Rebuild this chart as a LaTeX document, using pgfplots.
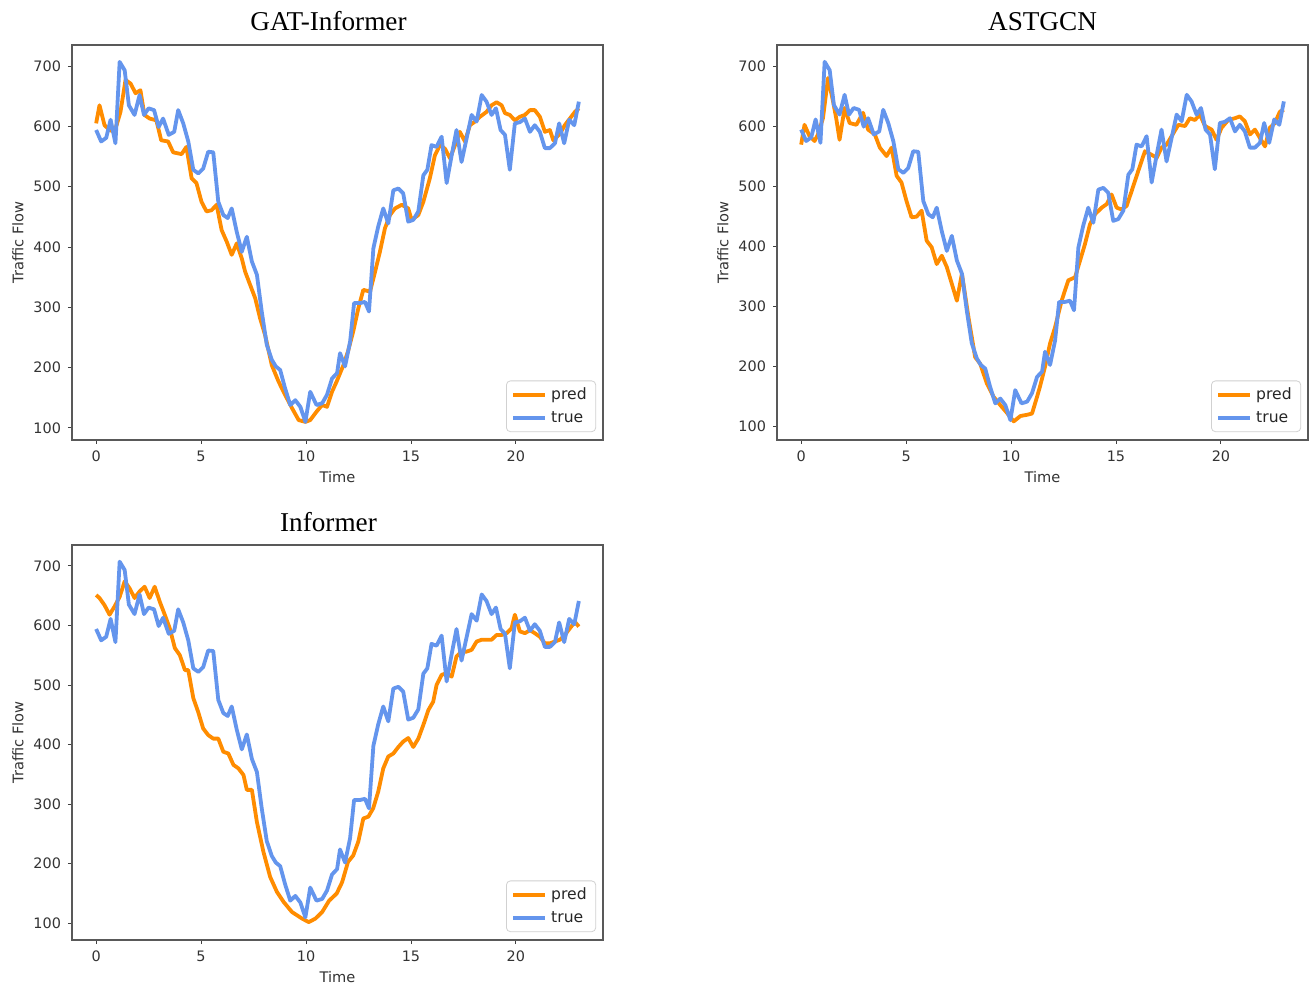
\documentclass[border=0pt]{standalone}
\usepackage{fontspec}
\setmainfont{DejaVu Sans}
\newfontfamily\titlefont{Liberation Serif}
\usepackage{pgfplots}
\pgfplotsset{compat=1.18}
\usepackage{pgfplotstable}
\definecolor{predc}{HTML}{FF8C00}
\definecolor{truec}{HTML}{6495ED}

\pgfplotstableread{
x y
0 594
0.24 575
0.48 581
0.69 611
0.92 572
1.12 707
1.36 693
1.56 635
1.83 619
2.07 652
2.28 619
2.5 630
2.76 627
2.98 599
3.19 613
3.46 586
3.72 591
3.91 627
4.15 605
4.39 575
4.63 528
4.87 522
5.1 530
5.34 558
5.58 557
5.82 475
6.06 453
6.27 448
6.46 464
6.7 425
6.94 392
7.18 417
7.42 376
7.66 354
7.89 293
8.13 238
8.37 213
8.56 202
8.77 196
9.0 166
9.25 138
9.49 146
9.73 135
9.97 110
10.2 160
10.5 138
10.77 141
11.0 155
11.24 182
11.48 191
11.62 224
11.86 202
12.1 243
12.29 307
12.57 307
12.81 309
13.0 293
13.21 398
13.44 434
13.68 464
13.92 439
14.16 494
14.4 497
14.63 489
14.87 442
15.11 445
15.35 459
15.59 519
15.78 528
15.98 569
16.22 566
16.46 583
16.7 506
16.94 552
17.17 594
17.41 541
17.65 580
17.89 619
18.13 608
18.37 652
18.6 641
18.84 619
19.05 630
19.27 594
19.48 586
19.71 528
19.95 605
20.19 607
20.43 613
20.67 591
20.9 602
21.14 591
21.38 564
21.62 564
21.86 572
22.06 605
22.3 572
22.54 611
22.78 602
23.0 641
}\truedata

\pgfplotstableread{
x y
0 605
0.16 635
0.4 602
0.64 594
0.88 591
1.16 624
1.4 677
1.64 671
1.88 655
2.11 660
2.3 619
2.55 613
2.87 610
3.1 577
3.43 575
3.67 557
4.07 554
4.3 566
4.55 514
4.78 506
5.02 475
5.26 459
5.5 461
5.74 470
5.98 428
6.22 409
6.46 387
6.7 406
6.94 381
7.1 359
7.34 337
7.58 315
7.81 282
8.05 254
8.37 204
8.69 177
9.0 155
9.33 133
9.65 113
9.97 110
10.2 113
10.5 127
10.77 138
11.0 135
11.24 160
11.46 177
11.78 204
12.0 227
12.25 260
12.49 298
12.73 329
13.05 326
13.29 359
13.52 392
13.76 431
14.0 453
14.24 464
14.56 470
14.87 464
15.03 445
15.35 453
15.59 475
15.9 514
16.14 552
16.38 569
16.62 563
16.86 547
17.1 569
17.33 591
17.57 575
17.81 602
18.05 608
18.29 616
18.6 624
18.84 635
19.08 640
19.32 635
19.48 622
19.71 619
19.95 610
20.19 616
20.43 619
20.67 627
20.9 627
21.14 616
21.38 591
21.62 594
21.78 577
22.1 588
22.33 602
22.57 613
22.81 624
23.0 630
}\gatpred

\pgfplotstableread{
x y
0 569
0.16 602
0.4 583
0.64 575
0.8 586
1.04 613
1.28 680
1.52 641
1.67 613
1.83 577
2.07 630
2.31 605
2.63 602
2.95 622
3.19 594
3.51 586
3.75 564
4.07 550
4.31 564
4.55 517
4.78 506
5.02 475
5.26 448
5.5 449
5.74 459
5.98 409
6.22 398
6.46 370
6.7 384
6.94 365
7.18 337
7.42 309
7.66 354
7.97 282
8.29 215
8.53 204
8.85 171
9.17 149
9.49 135
9.81 122
10.13 108
10.45 117
10.77 119
11.0 121
11.24 149
11.38 166
11.62 199
11.86 238
12.1 265
12.41 309
12.73 343
13.05 348
13.29 376
13.52 403
13.76 436
14.0 453
14.32 464
14.56 470
14.79 486
15.03 464
15.27 461
15.51 467
15.75 492
16.06 525
16.38 558
16.7 552
16.94 547
17.17 564
17.41 569
17.65 583
17.97 602
18.29 600
18.52 613
18.76 610
19.0 619
19.24 600
19.56 594
19.79 577
20.03 597
20.35 610
20.67 613
20.9 616
21.14 608
21.38 586
21.62 594
21.86 580
22.1 566
22.33 597
22.57 605
22.81 624
23.0 627
}\astpred

\pgfplotstableread{
x y
0 651
0.16 646
0.4 634
0.64 618
0.88 632
1.12 648
1.36 674
1.6 662
1.83 646
2.07 657
2.31 665
2.55 646
2.79 665
3.03 640
3.27 618
3.51 595
3.75 562
3.99 550
4.23 525
4.39 525
4.63 478
4.86 455
5.1 427
5.34 416
5.58 410
5.82 410
6.06 388
6.3 385
6.54 366
6.78 360
7.02 349
7.18 324
7.42 324
7.66 270
7.97 220
8.29 178
8.61 153
8.93 136
9.33 119
9.81 108
10.13 102
10.45 108
10.77 119
11.1 138
11.46 150
11.72 169
12.0 203
12.25 214
12.49 237
12.73 276
12.97 279
13.2 293
13.44 321
13.68 360
13.92 380
14.16 385
14.4 396
14.63 405
14.87 411
15.11 396
15.35 410
15.59 433
15.83 458
16.06 472
16.22 500
16.46 517
16.7 520
16.94 514
17.17 548
17.41 556
17.65 556
17.89 559
18.13 573
18.37 576
18.6 576
18.84 576
19.08 584
19.32 584
19.56 587
19.79 595
19.95 618
20.19 590
20.43 587
20.67 592
20.9 587
21.14 581
21.38 570
21.62 570
21.86 573
22.1 576
22.33 584
22.57 595
22.81 606
23.0 598
}\infpred

\pgfplotsset{
  myax/.style={
    scale only axis, width=265.5pt, height=197.5pt,
    xmin=-1.15, xmax=24.15, ymin=80, ymax=735,
    xtick={0,5,10,15,20}, ytick={100,200,300,400,500,600,700},
    tick align=outside, major tick length=2pt,
    tick style={black!75, line width=0.45pt},
    xtick pos=bottom, ytick pos=left,
    axis line style={black!65, line width=0.6pt},
    /pgf/number format/assume math mode=true,
    ticklabel style={font=\fontsize{7.2}{8}\selectfont, text=black!80},
    xlabel={Time}, ylabel={Traffic Flow},
    xlabel style={font=\fontsize{7.3}{8}\selectfont, text=black!80,
      at={(axis description cs:0.5,-0.0937)}, anchor=center},
    ylabel style={font=\fontsize{7.3}{8}\selectfont, text=black!80,
      at={(axis description cs:-0.1017,0.5)}, anchor=center},
    title style={font=\titlefont\fontsize{13.6}{15}\selectfont,
      at={(axis description cs:0.5,1)}, anchor=base, yshift=1pt},
    legend style={at={(axis description cs:0.987,0.02)}, anchor=south east,
      draw=black!18, rounded corners=2pt, font=\fontsize{7.8}{9}\selectfont,
      text=black!85, inner xsep=2.5pt, inner ysep=1.2pt,
      row sep=0.6pt},
    legend cell align=left,
    legend image code/.code={\draw[##1] (0pt,0pt) -- (16pt,0pt);},
    every axis plot/.append style={line width=1.9pt, line join=round},
  }
}

\begin{document}
\begin{tikzpicture}
\useasboundingbox (0pt,0pt) rectangle (654.5pt,492pt);

\begin{axis}[myax, at={(36pt,272pt)}, anchor=south west, title={GAT-Informer},
  title style={xshift=-4.5pt}]
\addplot[predc] table[x=x,y=y] {\gatpred};
\addplot[truec] table[x=x,y=y] {\truedata};
\legend{pred,true}
\end{axis}

\begin{axis}[myax, at={(388.5pt,272pt)}, anchor=south west, ymin=77, title={ASTGCN}]
\addplot[predc] table[x=x,y=y] {\astpred};
\addplot[truec] table[x=x,y=y] {\truedata};
\legend{pred,true}
\end{axis}

\begin{axis}[myax, at={(36pt,22pt)}, anchor=south west, ymin=72, title={Informer},
  title style={xshift=-4.5pt}]
\addplot[predc] table[x=x,y=y] {\infpred};
\addplot[truec] table[x=x,y=y] {\truedata};
\legend{pred,true}
\end{axis}
\end{tikzpicture}
\end{document}
